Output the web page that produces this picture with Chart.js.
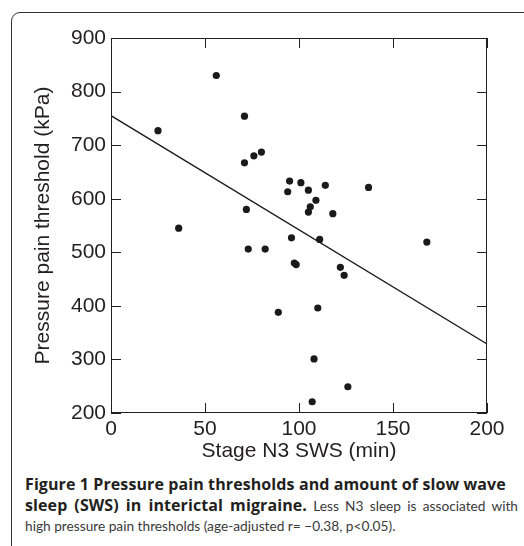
<!DOCTYPE html>
<html>
<head>
<meta charset="utf-8">
<script src="https://cdn.jsdelivr.net/npm/chart.js@4"></script>
<style>
  html, body { margin: 0; padding: 0; background: #fff; }
  body { width: 524px; height: 546px; position: relative; overflow: hidden; }
  #frame {
    position: absolute; left: 11px; top: 12px; width: 600px; height: 600px;
    border: 1px solid #333; border-radius: 9px;
  }
  #chart { position: absolute; left: 0; top: 0; }
  #caption {
    position: absolute; left: 25px; top: 474px; width: 493px;
    font-family: Lato, "Open Sans", sans-serif; font-size: 13.7px; line-height: 20px;
    color: #3a3a3a; white-space: nowrap;
  }
  #caption b { font-family: "Open Sans", sans-serif; color: #231f20; font-size: 16px; letter-spacing: 0.1px; }
  #caption .just { text-align: justify; text-align-last: justify; }
</style>
</head>
<body>
<div id="frame"></div>
<canvas id="chart" width="524" height="470"></canvas>
<div id="caption">
  <div><b>Figure 1 Pressure pain thresholds and amount of slow wave</b></div>
  <div class="just"><b>sleep (SWS) in interictal migraine.</b> Less N3 sleep is associated with</div>
  <div>high pressure pain thresholds (age-adjusted r= &minus;0.38, p&lt;0.05).</div>
</div>
<script>
// N3 slow wave sleep (min) vs pressure pain threshold (kPa)
const swsMinutes = [25, 36, 56, 71, 71, 72, 73, 76, 80, 82, 89, 94, 95, 96, 97.5, 98.5,
  101, 105, 105, 106, 107, 108, 109, 110, 111, 114, 118, 122, 124, 126, 137, 168];
const painKPa = [727, 545, 830, 754, 667, 580, 506, 680, 687, 506, 388, 613, 633, 527, 480, 477,
  630, 616, 575, 585, 221, 301, 597, 396, 524, 625, 572, 472, 457, 249, 621, 519];

// regression line end points
const fitX = [0, 200];
const fitY = [755, 329];

const xTicks = [0, 50, 100, 150, 200];
const yTicks = [200, 300, 400, 500, 600, 700, 800, 900];

const ink = '#231f20';

const boxAndTicks = {
  id: 'boxAndTicks',
  afterDraw(chart) {
    const { ctx, chartArea: a, scales } = chart;
    ctx.save();
    ctx.strokeStyle = ink;
    ctx.lineWidth = 1;
    ctx.strokeRect(a.left + 0.5, a.top + 0.5, a.right - a.left - 1, a.bottom - a.top - 1);
    ctx.beginPath();
    const len = 10;
    xTicks.forEach(v => {
      const px = Math.round(scales.x.getPixelForValue(v)) + 0.5;
      ctx.moveTo(px, a.bottom); ctx.lineTo(px, a.bottom - len);
      ctx.moveTo(px, a.top); ctx.lineTo(px, a.top + len);
    });
    yTicks.forEach(v => {
      const py = Math.round(scales.y.getPixelForValue(v)) + 0.5;
      ctx.moveTo(a.left, py); ctx.lineTo(a.left + len, py);
      ctx.moveTo(a.right, py); ctx.lineTo(a.right - len, py);
    });
    ctx.stroke();
    ctx.restore();
  }
};

const axisFont = { family: '"Liberation Sans", Arial, sans-serif', size: 21 };

new Chart(document.getElementById('chart'), {
  type: 'scatter',
  data: {
    datasets: [
      {
        data: swsMinutes.map((x, i) => ({ x: x, y: painKPa[i] })),
        backgroundColor: '#1a1a1a',
        borderWidth: 0,
        pointRadius: 3.6
      },
      {
        type: 'line',
        data: fitX.map((x, i) => ({ x: x, y: fitY[i] })),
        borderColor: '#1a1a1a',
        borderWidth: 1.3,
        pointRadius: 0,
        fill: false
      }
    ]
  },
  options: {
    responsive: false,
    animation: false,
    layout: { padding: { left: 31, top: 38, right: 37, bottom: 6 } },
    plugins: { legend: { display: false }, tooltip: { enabled: false } },
    scales: {
      x: {
        type: 'linear',
        min: 0, max: 200,
        afterBuildTicks: s => { s.ticks = xTicks.map(v => ({ value: v })); },
        afterFit: s => { s.height = 51; },
        grid: { drawOnChartArea: false, drawTicks: false },
        border: { display: false },
        ticks: { color: ink, font: axisFont, padding: 4, maxRotation: 0 },
        title: { display: true, text: 'Stage N3 SWS (min)', color: ink, font: axisFont, padding: 0 }
      },
      y: {
        type: 'linear',
        min: 200, max: 900,
        afterBuildTicks: s => { s.ticks = yTicks.map(v => ({ value: v })); },
        afterFit: s => { s.width = 80; },
        grid: { drawOnChartArea: false, drawTicks: false },
        border: { display: false },
        ticks: { color: ink, font: axisFont, padding: 5 },
        title: { display: true, text: 'Pressure pain threshold (kPa)', color: ink, font: axisFont, padding: 0 }
      }
    }
  },
  plugins: [boxAndTicks]
});
</script>
</body>
</html>
